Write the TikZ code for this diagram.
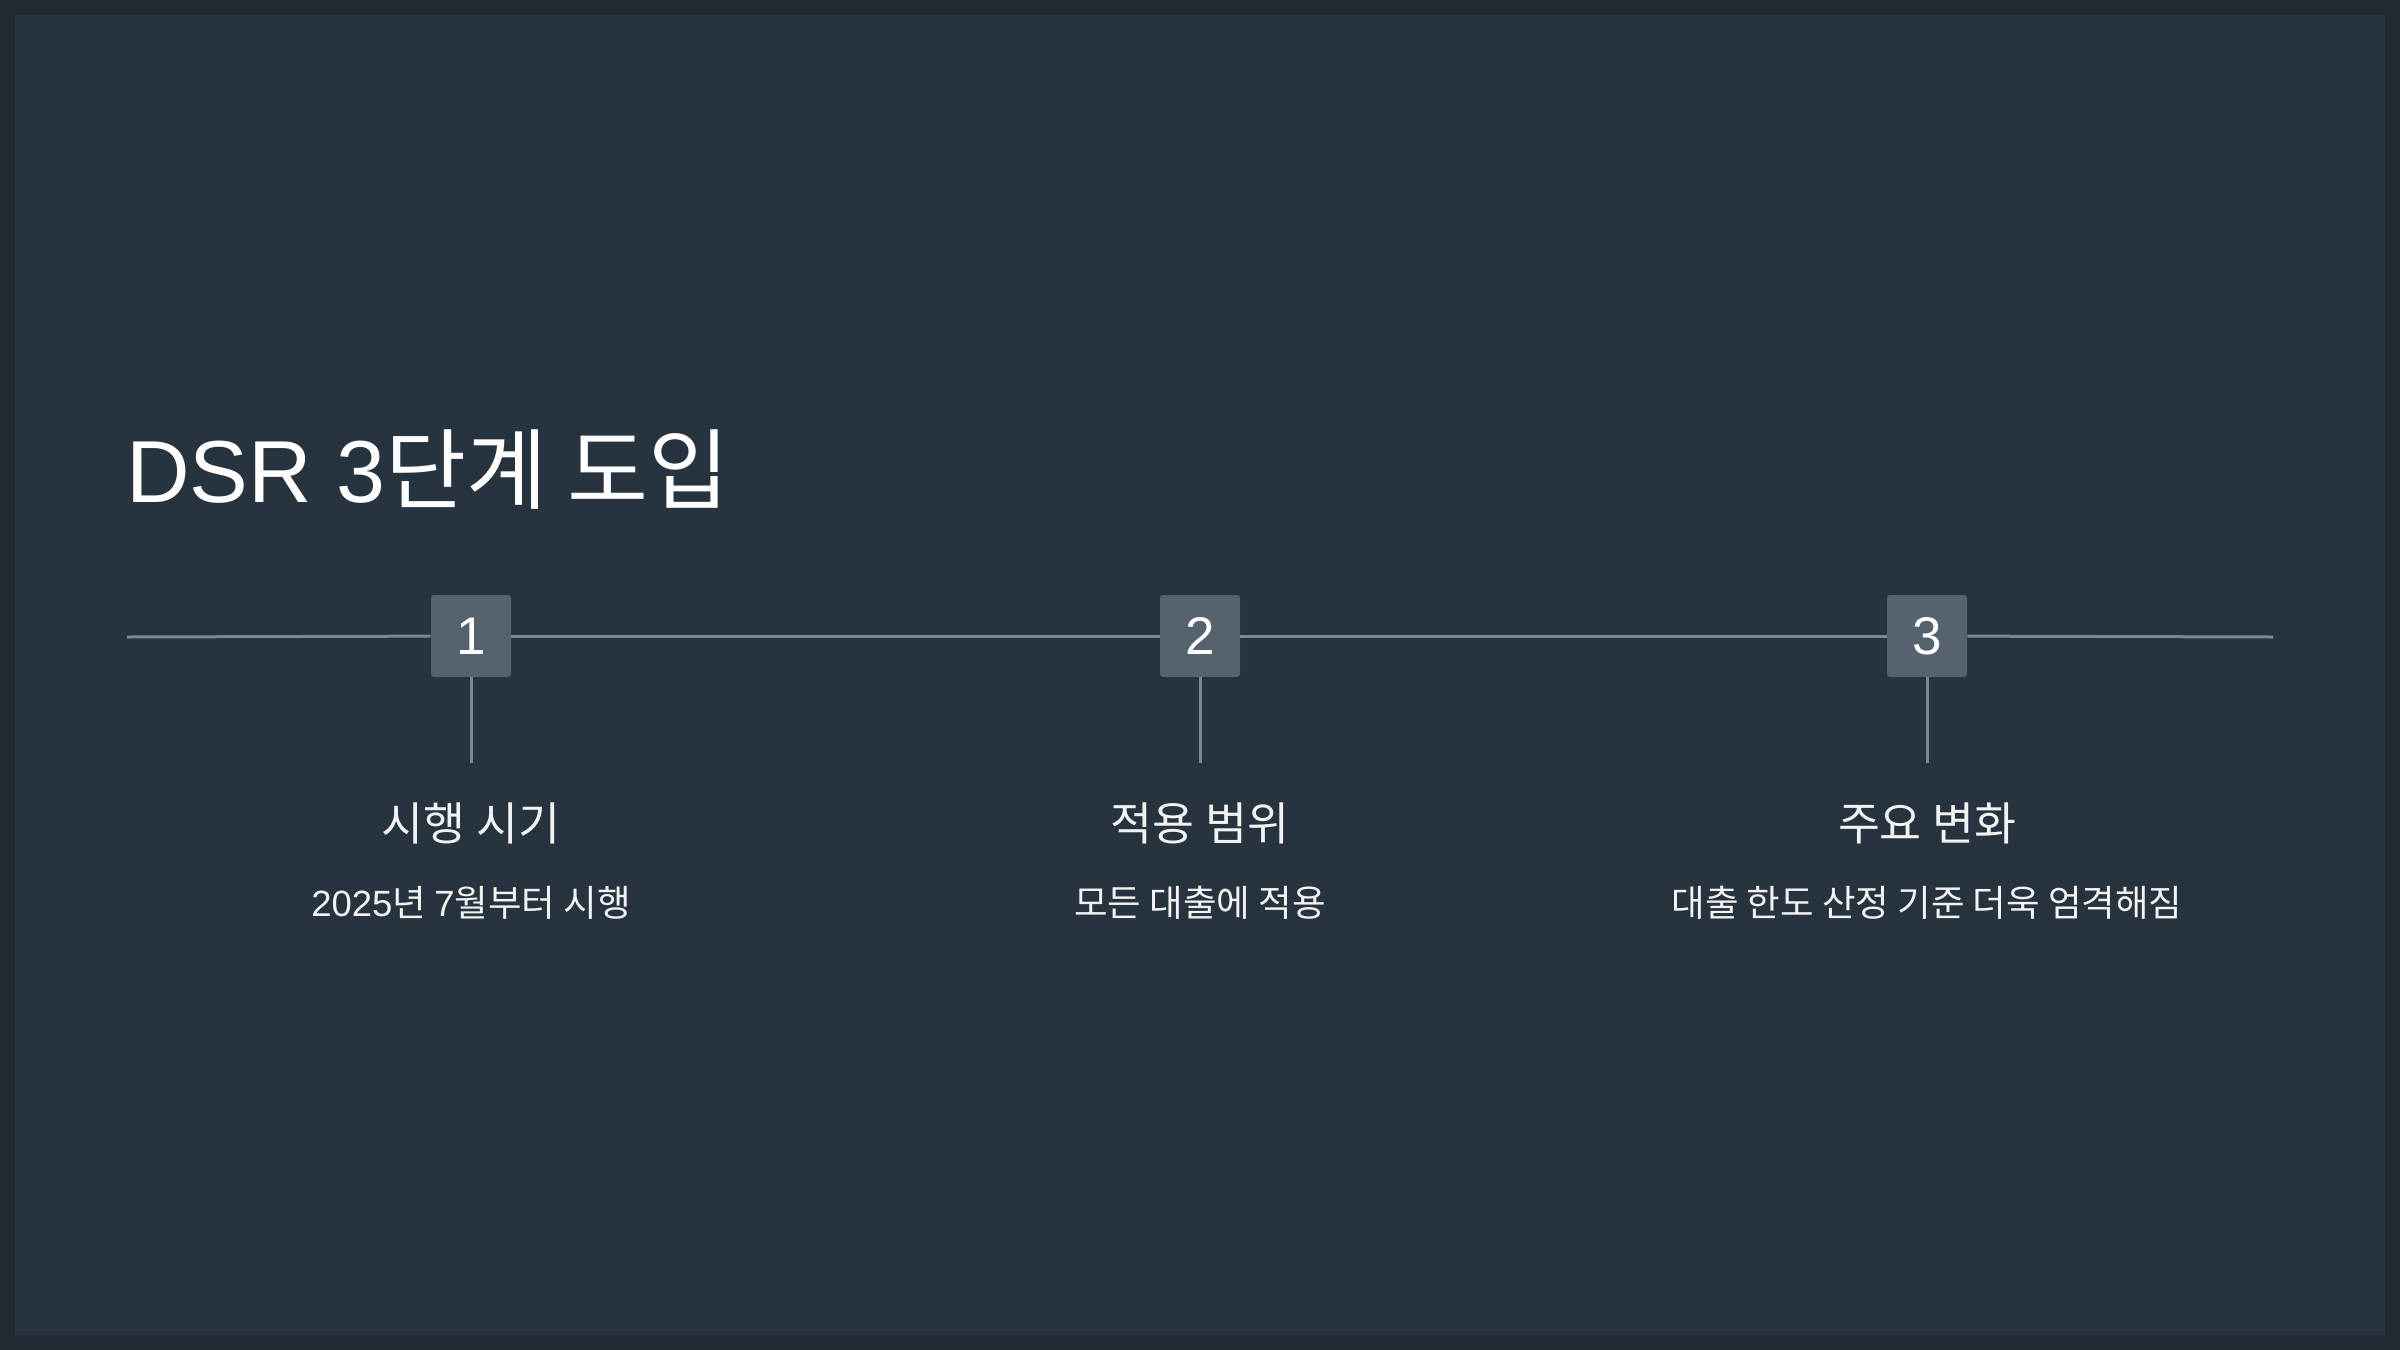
\documentclass[tikz,border=0pt]{standalone}
\usepackage{fontspec}
\setmainfont{Noto Sans CJK KR}
\newfontfamily\latinfont{Liberation Sans}
\usepackage{tikz}
\usetikzlibrary{positioning, calc}

\definecolor{frame}{HTML}{1F2A33}
\definecolor{slide}{HTML}{27333F}
\definecolor{stepfill}{HTML}{56626E}
\definecolor{rail}{HTML}{7E8791}
\definecolor{ink}{HTML}{F2F2F2}

\tikzset{
  numbox/.style={rectangle, rounded corners=1.5pt, fill=stepfill, minimum width=40pt, minimum height=41pt, inner sep=0, text=white, font=\latinfont\fontsize{26.5}{30}\selectfont},
  headtext/.style={anchor=base, text=ink, inner sep=0, font=\fontsize{22.8}{26}\selectfont},
  subtext/.style={anchor=base, text=ink, inner sep=0, font=\fontsize{18.25}{21}\selectfont},
  railline/.style={draw=rail, line width=1.5pt}
}

\begin{document}
\begin{tikzpicture}[x=0.5pt, y=-0.5pt]
  \fill[frame] (0,0) rectangle (2400,1350);
  \fill[slide] (15,15) rectangle (2385,1335);

  \node (title) [anchor=base west, inner sep=0, text=white, font=\fontsize{44}{50}\selectfont] at (126,502) {{\latinfont DSR 3}단계 도입};

  \coordinate (left) at (127,637);
  \coordinate (right) at (2273,637);

  \node (s1) [numbox] at (471,636) {1};
  \node (s2) [numbox] at (1200,636) {2};
  \node (s3) [numbox] at (1927,636) {3};

  \coordinate (t1) at (471,763);
  \coordinate (t2) at (1200,763);
  \coordinate (t3) at (1927,763);

  \node (h1) [headtext] at (471,840) {시행 시기};
  \node (h2) [headtext] at (1200,840) {적용 범위};
  \node (h3) [headtext] at (1927,840) {주요 변화};

  \node (d1) [subtext] at (471,916) {{\latinfont 2025}년 {\latinfont 7}월부터 시행};
  \node (d2) [subtext] at (1200,916) {모든 대출에 적용};
  \node (d3) [subtext] at (1927,916) {대출 한도 산정 기준 더욱 엄격해짐};

  \path [railline]
  (left) edge (s1)
  (s1) edge (s2)
  (s2) edge (s3)
  (s3) edge (right)
  (s1) edge (t1)
  (s2) edge (t2)
  (s3) edge (t3);
\end{tikzpicture}
\end{document}
